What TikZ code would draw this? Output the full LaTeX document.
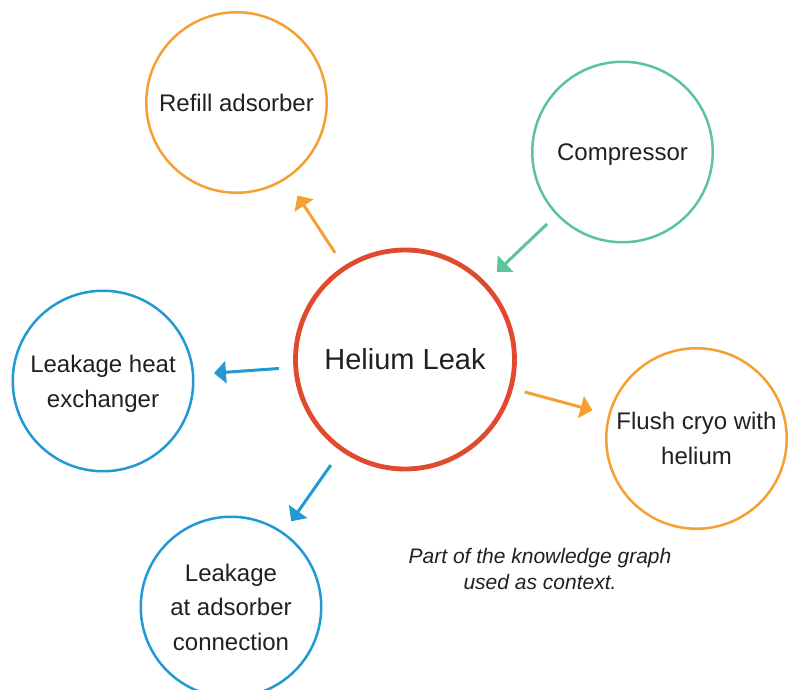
\documentclass[tikz,border=0pt]{standalone}
\usepackage{fontspec}
\setmainfont{Liberation Sans}
\usetikzlibrary{arrows.meta}
\definecolor{corange}{HTML}{F5A033}
\definecolor{cgreen}{HTML}{5CC39C}
\definecolor{cblue}{HTML}{2399D3}
\definecolor{cred}{HTML}{E04A2F}
\definecolor{ctext}{HTML}{231F20}
\begin{document}
\begin{tikzpicture}[x=1pt,y=-1pt,
  leaf/.style={circle,draw,line width=2.5pt,minimum size=180.5pt,inner sep=0pt,outer sep=0pt,
    align=center,font=\fontsize{24}{34.5}\selectfont,text=ctext},
  hub/.style={circle,draw=cred,line width=4.8pt,minimum size=219pt,inner sep=0pt,outer sep=0pt,
    font=\fontsize{29}{35}\selectfont,text=ctext},
  link/.style={line width=3pt,-{Triangle[length=12pt,width=22pt]}},
  caption/.style={font=\fontsize{21}{26}\selectfont\itshape,text=ctext,align=center}
]
\useasboundingbox (0,0) rectangle (789,690);

\node[hub] (hub) at (405,359.5) {Helium Leak};
\node[leaf,draw=corange] (refill) at (236.5,102.5) {Refill adsorber};
\node[leaf,draw=cgreen,text depth=0pt] (comp) at (622.5,152) {Compressor};
\node[leaf,draw=cblue] (heat) at (103,381) {\rule{0pt}{23pt}Leakage heat\\exchanger};
\node[leaf,draw=corange] (flush) at (696.5,438.5) {Flush cryo with\\helium};
\node[leaf,draw=cblue] (ads) at (231,607) {Leakage\\at adsorber\\connection};

\draw[link,color=corange,shorten <=18pt,shorten >=21pt] (hub) -- (refill);
\draw[link,color=cgreen,shorten <=14pt,shorten >=17.5pt] (comp) -- (hub);
\draw[link,color=cblue,shorten <=17pt,shorten >=21pt] (hub) -- (heat);
\draw[link,color=corange,shorten <=14.5pt,shorten >=17.5pt] (hub) -- (flush);
\draw[link,color=cblue,shorten <=19.5pt,shorten >=14.5pt] (hub) -- (ads);

\node[caption] (cap) at (540,569) {Part of the knowledge graph\\used as context.};
\end{tikzpicture}
\end{document}
